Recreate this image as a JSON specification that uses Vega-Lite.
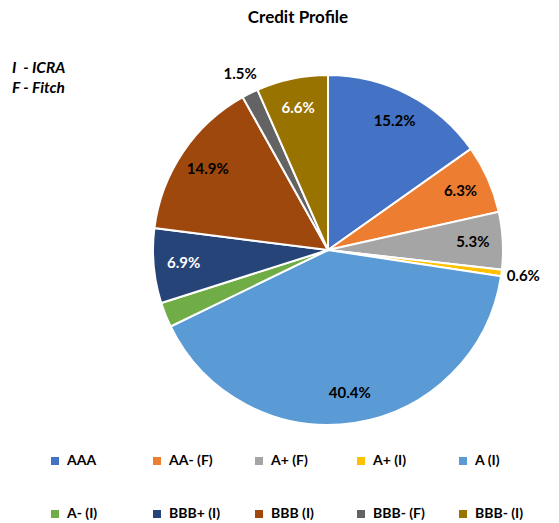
{
  "$schema": "https://vega.github.io/schema/vega-lite/v6.json",
  "width": 350,
  "height": 350,
  "autosize": {"type": "none"},
  "padding": {"left": 153, "top": 75, "right": 56, "bottom": 98},
  "background": "white",
  "title": {"text": "Credit Profile", "font": "Lato", "fontSize": 17, "fontWeight": "bold", "color": "#000000", "anchor": "middle", "frame": "group", "dx": -30, "offset": 23},
  "data": {
    "values": [
      {"idx": 1, "category": "AAA", "share": 0.152},
      {"idx": 2, "category": "AA- (F)", "share": 0.063},
      {"idx": 3, "category": "A+ (F)", "share": 0.053},
      {"idx": 4, "category": "A+ (I)", "share": 0.006},
      {"idx": 5, "category": "A (I)", "share": 0.404},
      {"idx": 6, "category": "A- (I)", "share": 0.023},
      {"idx": 7, "category": "BBB+ (I)", "share": 0.069},
      {"idx": 8, "category": "BBB (I)", "share": 0.149},
      {"idx": 9, "category": "BBB- (F)", "share": 0.015},
      {"idx": 10, "category": "BBB- (I)", "share": 0.066}
    ]
  },
  "encoding": {
    "theta": {"field": "share", "type": "quantitative", "stack": true},
    "order": {"field": "idx", "type": "quantitative"}
  },
  "layer": [
    {
      "mark": {"type": "arc", "outerRadius": 175, "stroke": "white", "strokeWidth": 2},
      "encoding": {
        "color": {
          "field": "category",
          "type": "nominal",
          "scale": {
            "domain": ["AAA", "AA- (F)", "A+ (F)", "A+ (I)", "A (I)", "A- (I)", "BBB+ (I)", "BBB (I)", "BBB- (F)", "BBB- (I)"],
            "range": ["#4472C4", "#ED7D31", "#A5A5A5", "#FFC000", "#5B9BD5", "#70AD47", "#264478", "#9E480E", "#636363", "#997300"]
          },
          "legend": {
            "title": null,
            "orient": "none",
            "legendX": -105,
            "legendY": 379,
            "direction": "horizontal",
            "columns": 5,
            "gridAlign": "all",
            "columnPadding": 31,
            "rowPadding": 39,
            "symbolType": "square",
            "symbolSize": 64,
            "symbolStrokeWidth": 0,
            "labelFont": "Lato",
            "labelFontSize": 14,
            "labelFontWeight": "bold",
            "labelColor": "#000000",
            "labelOffset": 5
          }
        }
      }
    },
    {
      "mark": {"type": "text", "radius": 145, "font": "Lato", "fontSize": 15, "fontWeight": "bold"},
      "encoding": {
        "text": {
          "condition": {"test": "indexof(['A- (I)','A+ (I)','BBB- (F)'], datum.category) < 0", "field": "share", "type": "quantitative", "format": ".1%"},
          "value": ""
        },
        "color": {
          "condition": {"test": "datum.category === 'BBB+ (I)' || datum.category === 'BBB- (I)'", "value": "#FFFFFF"},
          "value": "#000000"
        }
      }
    },
    {
      "mark": {"type": "text", "radius": 197, "font": "Lato", "fontSize": 15, "fontWeight": "bold", "color": "#000000"},
      "encoding": {
        "text": {
          "condition": {"test": "datum.category === 'A+ (I)' || datum.category === 'BBB- (F)'", "field": "share", "type": "quantitative", "format": ".1%"},
          "value": ""
        },
        "opacity": {
          "datum": "note",
          "type": "nominal",
          "scale": {"range": [1, 1]},
          "legend": {
            "title": ["I \u00a0- ICRA", "F - Fitch"],
            "orient": "none",
            "legendX": -141,
            "legendY": -14,
            "titleFont": "Lato",
            "titleFontSize": 15.5,
            "titleFontStyle": "italic",
            "titleFontWeight": "bold",
            "titleColor": "#000000",
            "titleLineHeight": 20,
            "labelExpr": "''",
            "symbolOpacity": 0,
            "symbolStrokeWidth": 0,
            "symbolFillColor": "transparent",
            "symbolStrokeColor": "transparent",
            "symbolSize": 0
          }
        }
      }
    }
  ]
}
